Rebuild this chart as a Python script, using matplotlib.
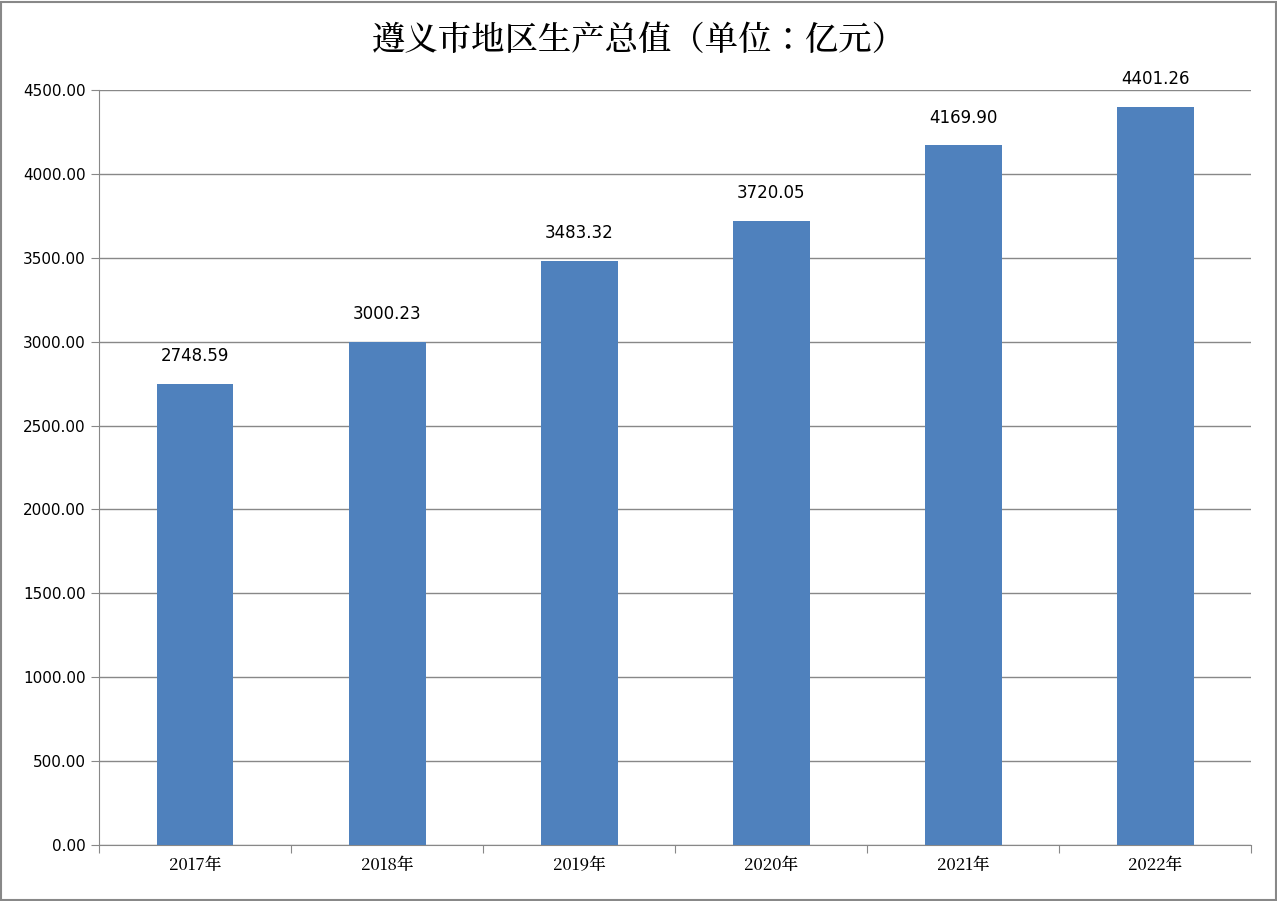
import matplotlib
matplotlib.use("Agg")
import matplotlib.pyplot as plt
from matplotlib import font_manager as fm
from matplotlib.patches import Rectangle

years = ["2017年", "2018年", "2019年", "2020年", "2021年", "2022年"]
values = [2748.59, 3000.23, 3483.32, 3720.05, 4169.90, 4401.26]
yticks = [0, 500, 1000, 1500, 2000, 2500, 3000, 3500, 4000, 4500]

cjk = [f for f in fm.fontManager.ttflist if "CJK" in f.name]
pref = [f for f in cjk if "SC" in f.name] or cjk
fams = [pref[0].name] if pref else []
plt.rcParams["font.family"] = ["DejaVu Sans"] + fams
cjk_fp = fm.FontProperties(fname=pref[0].fname) if pref else None

fig = plt.figure(figsize=(12.77, 9.01), dpi=100)
ax = fig.add_axes([0.0775, 0.0622, 0.9025, 0.8378])
x = list(range(len(years)))
ax.bar(x, values, width=0.4, color="#4f81bd", zorder=3)
for xi, v in zip(x, values):
    ax.text(xi, v + 110, f"{v:.2f}", ha="center", va="bottom", fontsize=12)
ax.set_xlim(-0.5, len(years) - 0.5)
ax.set_ylim(0, 4500)
ax.set_yticks(yticks)
ax.set_yticklabels([f"{t:.2f}" for t in yticks], fontsize=11)
ax.yaxis.grid(True, color="#888888", linewidth=1, zorder=0)
ax.set_xticks([i - 0.5 for i in range(len(years) + 1)])
ax.set_xticklabels([])
ax.set_xticks(x, minor=True)
lbls = ax.set_xticklabels(years, minor=True, fontsize=12)
if cjk_fp is not None:
    for l in lbls:
        l.set_fontproperties(cjk_fp)
        l.set_fontsize(12)
ax.tick_params(axis="x", which="minor", length=0, pad=8)
ax.tick_params(axis="x", which="major", length=6, color="#888888")
ax.tick_params(axis="y", length=6, color="#888888")
for s in ["top", "right"]:
    ax.spines[s].set_visible(False)
for s in ["left", "bottom"]:
    ax.spines[s].set_color("#888888")
t = fig.text(0.5, 0.955, "遵义市地区生产总值（单位：亿元）", ha="center", va="center", fontsize=24)
if cjk_fp is not None:
    t.set_fontproperties(cjk_fp)
    t.set_fontsize(24)
fig.patches.append(Rectangle((0.001, 0.001), 0.998, 0.997, transform=fig.transFigure,
                             fill=False, edgecolor="#888888", linewidth=1.5))
fig.savefig("out.png", dpi=100)
